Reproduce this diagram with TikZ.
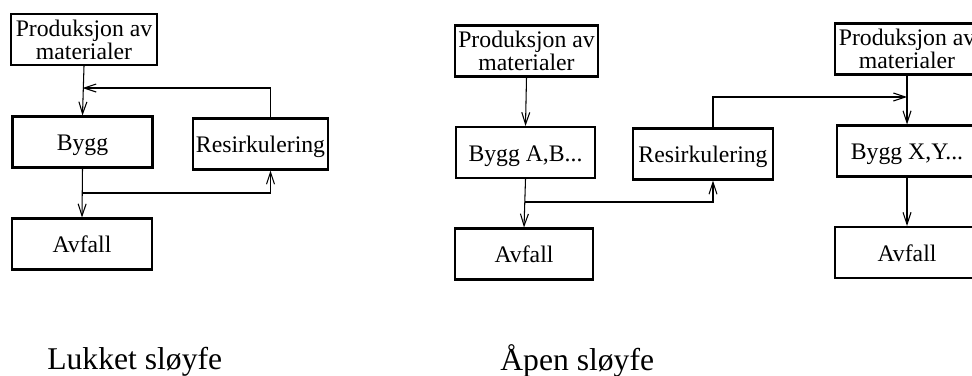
\documentclass[tikz,border=0pt]{standalone}
\usepackage{fontspec}
\setmainfont{Liberation Serif}
\usepackage{tikz}
\usetikzlibrary{arrows.meta}

\begin{document}
\begin{tikzpicture}[
  box/.style={draw, line width=1.2pt, minimum width=2.8cm, minimum height=1.02cm,
    align=center, inner sep=1pt, font=\fontsize{13.5}{13}\selectfont},
  en/.style={box, text height=0.34cm, text depth=0pt},
  arr/.style={line width=0.6pt, -{Straight Barb[length=0.24cm,width=0.16cm]}},
  tittel/.style={anchor=base west, inner sep=0pt, font=\fontsize{18}{18}\selectfont}]
\useasboundingbox (0, 0) rectangle (19.44, -7.5);
% lukket
\node[box, minimum width=2.92cm] (prodL) at (1.68, -0.79) {Produksjon av\\materialer};
\node[en] (byggL) at (1.65, -2.84) {Bygg};
\node[en, minimum width=2.7cm] (resL) at (5.21, -2.88) {Resirkulering};
\node[en] (avfL) at (1.64, -4.88) {Avfall};
\coordinate (retL) at (1.65, -1.76);
\coordinate (brL) at (1.65, -3.86);
\draw[arr] (prodL.south) -- (byggL.north);
\draw[arr] (byggL.south) -- (avfL.north);
\draw[arr] ([xshift=0.2cm]resL.north) |- (retL);
\draw[arr] (brL) -| ([xshift=0.2cm]resL.south);
% åpen
\node[box, minimum width=2.86cm] (prodA) at (10.53, -1.02) {Produksjon av\\materialer};
\node[en, minimum width=2.78cm] (byggA) at (10.51, -3.05) {Bygg A,B...};
\node[en] (resR) at (14.06, -3.08) {Resirkulering};
\node[en, minimum width=2.76cm] (avfA) at (10.48, -5.08) {Avfall};
\node[box, minimum width=2.88cm] (prodX) at (18.14, -0.98) {Produksjon av\\materialer};
\node[en] (byggX) at (18.14, -3.02) {Bygg X,Y...};
\node[en, minimum width=2.88cm] (avfX) at (18.14, -5.05) {Avfall};
\coordinate (retR) at (18.14, -1.94);
\coordinate (brR) at (10.5, -4.04);
\draw[arr] (prodA.south) -- (byggA.north);
\draw[arr] (byggA.south) -- (avfA.north);
\draw[arr] (brR) -| ([xshift=0.2cm]resR.south);
\draw[arr] ([xshift=0.2cm]resR.north) |- (retR);
\draw[arr] (prodX.south) -- (byggX.north);
\draw[arr] (byggX.south) -- (avfX.north);
% titler
\node[tittel] (lukket) at (0.94, -7.38) {Lukket sløyfe};
\node[tittel] (apen) at (10.0, -7.40) {Åpen sløyfe};
\end{tikzpicture}
\end{document}
